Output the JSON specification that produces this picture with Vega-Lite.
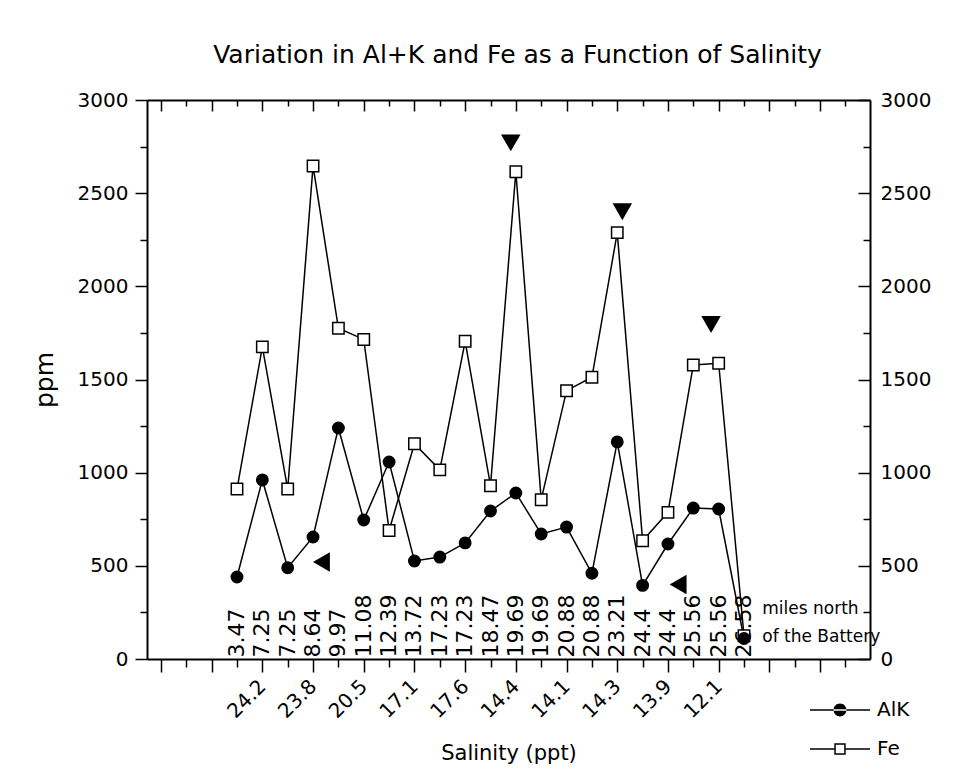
{
  "$schema": "https://vega.github.io/schema/vega-lite/v6.json",
  "width": 723,
  "height": 559,
  "autosize": {"type": "none"},
  "padding": {"left": 147, "top": 100, "right": 93, "bottom": 116},
  "background": "white",
  "title": {"text": "Variation in Al+K and Fe as a Function of Salinity", "font": "DejaVu Sans", "fontSize": 25, "fontWeight": "normal", "color": "black", "anchor": "middle", "baseline": "alphabetic", "offset": 2, "dx": 9},
  "config": {
    "view": {"stroke": null},
    "font": "DejaVu Sans",
    "axis": {"grid": false, "domainColor": "black", "domainWidth": 2, "tickColor": "black", "tickWidth": 1.5, "labelColor": "black", "titleColor": "black", "labelFont": "DejaVu Sans", "titleFont": "DejaVu Sans", "labelFontSize": 20, "titleFontWeight": "normal", "labelFlush": false, "labelOverlap": false}
  },
  "datasets": {
    "samples": [
      {"idx": 0, "distance": "3.47", "series": "Fe", "ppm": 912},
      {"idx": 1, "distance": "7.25", "series": "Fe", "ppm": 1675},
      {"idx": 2, "distance": "7.25", "series": "Fe", "ppm": 912},
      {"idx": 3, "distance": "8.64", "series": "Fe", "ppm": 2646},
      {"idx": 4, "distance": "9.97", "series": "Fe", "ppm": 1775},
      {"idx": 5, "distance": "11.08", "series": "Fe", "ppm": 1715},
      {"idx": 6, "distance": "12.39", "series": "Fe", "ppm": 690},
      {"idx": 7, "distance": "13.72", "series": "Fe", "ppm": 1155},
      {"idx": 8, "distance": "17.23", "series": "Fe", "ppm": 1015},
      {"idx": 9, "distance": "17.23", "series": "Fe", "ppm": 1705},
      {"idx": 10, "distance": "18.47", "series": "Fe", "ppm": 930},
      {"idx": 11, "distance": "19.69", "series": "Fe", "ppm": 2615},
      {"idx": 12, "distance": "19.69", "series": "Fe", "ppm": 855},
      {"idx": 13, "distance": "20.88", "series": "Fe", "ppm": 1440},
      {"idx": 14, "distance": "20.88", "series": "Fe", "ppm": 1512},
      {"idx": 15, "distance": "23.21", "series": "Fe", "ppm": 2288},
      {"idx": 16, "distance": "24.4", "series": "Fe", "ppm": 635},
      {"idx": 17, "distance": "24.4", "series": "Fe", "ppm": 787},
      {"idx": 18, "distance": "25.56", "series": "Fe", "ppm": 1578},
      {"idx": 19, "distance": "25.56", "series": "Fe", "ppm": 1587},
      {"idx": 20, "distance": "26.58", "series": "Fe", "ppm": 125},
      {"idx": 0, "distance": "3.47", "series": "AlK", "ppm": 440},
      {"idx": 1, "distance": "7.25", "series": "AlK", "ppm": 961},
      {"idx": 2, "distance": "7.25", "series": "AlK", "ppm": 490},
      {"idx": 3, "distance": "8.64", "series": "AlK", "ppm": 655},
      {"idx": 4, "distance": "9.97", "series": "AlK", "ppm": 1240},
      {"idx": 5, "distance": "11.08", "series": "AlK", "ppm": 746},
      {"idx": 6, "distance": "12.39", "series": "AlK", "ppm": 1057},
      {"idx": 7, "distance": "13.72", "series": "AlK", "ppm": 526},
      {"idx": 8, "distance": "17.23", "series": "AlK", "ppm": 547},
      {"idx": 9, "distance": "17.23", "series": "AlK", "ppm": 623},
      {"idx": 10, "distance": "18.47", "series": "AlK", "ppm": 794},
      {"idx": 11, "distance": "19.69", "series": "AlK", "ppm": 891},
      {"idx": 12, "distance": "19.69", "series": "AlK", "ppm": 671},
      {"idx": 13, "distance": "20.88", "series": "AlK", "ppm": 708},
      {"idx": 14, "distance": "20.88", "series": "AlK", "ppm": 460},
      {"idx": 15, "distance": "23.21", "series": "AlK", "ppm": 1165},
      {"idx": 16, "distance": "24.4", "series": "AlK", "ppm": 395},
      {"idx": 17, "distance": "24.4", "series": "AlK", "ppm": 617},
      {"idx": 18, "distance": "25.56", "series": "AlK", "ppm": 810},
      {"idx": 19, "distance": "25.56", "series": "AlK", "ppm": 805},
      {"idx": 20, "distance": "26.58", "series": "AlK", "ppm": 110}
    ],
    "arrows": [
      {"idx": 10.8, "ppm": 2770, "dir": "down"},
      {"idx": 15.2, "ppm": 2400, "dir": "down"},
      {"idx": 18.7, "ppm": 1795, "dir": "down"},
      {"idx": 3.33, "ppm": 520, "dir": "left"},
      {"idx": 17.4, "ppm": 400, "dir": "left"}
    ],
    "notes": [
      {"idx": 20.72, "ppm": 268, "note": "miles north"},
      {"idx": 20.72, "ppm": 118, "note": "of the Battery"}
    ]
  },
  "resolve": {"axis": {"x": "independent", "y": "independent"}, "scale": {"shape": "independent"}},
  "layer": [
    {
      "data": {"name": "samples"},
      "transform": [{"filter": "datum.series === 'AlK'"}],
      "mark": {"type": "text", "angle": 270, "align": "left", "baseline": "middle", "fontSize": 22, "font": "DejaVu Sans", "color": "black"},
      "encoding": {
        "x": {"field": "idx", "type": "quantitative", "scale": {"domain": [-3.55, 24.97], "nice": false, "zero": false}, "axis": null},
        "y": {"datum": 8, "type": "quantitative", "scale": {"domain": [0, 3000], "nice": false, "zero": false}, "axis": null},
        "text": {"field": "distance"}
      }
    },
    {
      "data": {"name": "samples"},
      "mark": {"type": "line", "color": "black", "strokeWidth": 1.5},
      "encoding": {
        "x": {"field": "idx", "type": "quantitative", "scale": {"domain": [-3.55, 24.97], "nice": false, "zero": false},
          "axis": {"orient": "bottom", "values": [-3, -1, 1, 3, 5, 7, 9, 11, 13, 15, 17, 19, 21, 23], "tickSize": 13, "labelAngle": -45, "labelAlign": "right", "labelBaseline": "middle", "labelPadding": 11, "labelFontSize": 20,
            "labelExpr": "datum.value >= 1 && datum.value <= 19 ? ['24.2','23.8','20.5','17.1','17.6','14.4','14.1','14.3','13.9','12.1'][(datum.value - 1) / 2] : ''",
            "title": "Salinity (ppt)", "titleFontSize": 21, "titlePadding": 21}},
        "y": {"field": "ppm", "type": "quantitative", "scale": {"domain": [0, 3000], "nice": false, "zero": false},
          "axis": {"orient": "left", "values": [0, 500, 1000, 1500, 2000, 2500, 3000], "format": "d", "tickSize": 12, "labelPadding": 7, "title": "ppm", "titleFontSize": 25, "titlePadding": 20}},
        "detail": {"field": "series"}
      }
    },
    {
      "data": {"name": "samples"},
      "mark": {"type": "point", "filled": true, "stroke": "black", "strokeWidth": 1.5, "size": 130, "opacity": 1},
      "encoding": {
        "x": {"field": "idx", "type": "quantitative", "scale": {"domain": [-3.55, 24.97], "nice": false, "zero": false},
          "axis": {"orient": "top", "values": [-3, -1, 1, 3, 5, 7, 9, 11, 13, 15, 17, 19, 21, 23], "tickSize": -11, "labels": false, "title": null}},
        "y": {"field": "ppm", "type": "quantitative", "scale": {"domain": [0, 3000], "nice": false, "zero": false},
          "axis": {"orient": "right", "values": [0, 500, 1000, 1500, 2000, 2500, 3000], "format": "d", "tickSize": -12, "labelPadding": 22, "title": null}},
        "shape": {"field": "series", "type": "nominal", "scale": {"domain": ["AlK", "Fe"], "range": ["circle", "square"]}, "legend": null},
        "fill": {"field": "series", "type": "nominal", "scale": {"domain": ["AlK", "Fe"], "range": ["black", "white"]}, "legend": null}
      }
    },
    {
      "data": {"name": "samples"},
      "mark": {"type": "point", "filled": true, "color": "black", "strokeWidth": 0, "opacity": 0},
      "encoding": {
        "x": {"field": "idx", "type": "quantitative", "scale": {"domain": [-3.55, 24.97], "nice": false, "zero": false}, "axis": null},
        "y": {"field": "ppm", "type": "quantitative", "scale": {"domain": [0, 3000], "nice": false, "zero": false}, "axis": null},
        "shape": {"field": "series", "type": "nominal",
          "scale": {"domain": ["AlK", "Fe"], "range": ["M-2,-0.055H2V0.055H-2Z M-0.43,0A0.43,0.43,0,1,0,0.43,0A0.43,0.43,0,1,0,-0.43,0Z", "M-2,-0.055H-0.33V0.055H-2Z M0.33,-0.055H2V0.055H0.33Z M-0.38,-0.38H0.38V0.38H-0.38Z M-0.28,-0.28V0.28H0.28V-0.28Z"]},
          "legend": {"orient": "none", "legendX": 678, "legendY": 595, "title": null, "symbolSize": 900, "symbolOpacity": 1, "symbolFillColor": "black", "symbolStrokeColor": "transparent", "symbolStrokeWidth": 0, "labelFontSize": 20, "labelFont": "DejaVu Sans", "labelColor": "black", "labelOffset": 22, "rowPadding": 14, "padding": 0}}
      }
    },
    {
      "data": {"name": "arrows"},
      "transform": [{"filter": "datum.dir === 'down'"}],
      "mark": {"type": "point", "shape": "triangle-down", "filled": true, "color": "black", "opacity": 1, "size": 380},
      "encoding": {
        "x": {"field": "idx", "type": "quantitative", "scale": {"domain": [-3.55, 24.97], "nice": false, "zero": false},
          "axis": {"orient": "bottom", "values": [-2, 0, 2, 4, 6, 8, 10, 12, 14, 16, 18, 20, 22, 24], "tickSize": 8, "labels": false, "domain": false, "title": null}},
        "y": {"field": "ppm", "type": "quantitative", "scale": {"domain": [0, 3000], "nice": false, "zero": false},
          "axis": {"orient": "left", "values": [250, 750, 1250, 1750, 2250, 2750], "tickSize": 7, "labels": false, "domain": false, "title": null}}
      }
    },
    {
      "data": {"name": "arrows"},
      "transform": [{"filter": "datum.dir === 'left'"}],
      "mark": {"type": "point", "shape": "triangle-left", "filled": true, "color": "black", "opacity": 1, "size": 380},
      "encoding": {
        "x": {"field": "idx", "type": "quantitative", "scale": {"domain": [-3.55, 24.97], "nice": false, "zero": false},
          "axis": {"orient": "top", "values": [-2, 0, 2, 4, 6, 8, 10, 12, 14, 16, 18, 20, 22, 24], "tickSize": -6, "labels": false, "domain": false, "title": null}},
        "y": {"field": "ppm", "type": "quantitative", "scale": {"domain": [0, 3000], "nice": false, "zero": false},
          "axis": {"orient": "right", "values": [250, 750, 1250, 1750, 2250, 2750], "tickSize": -7, "labels": false, "domain": false, "title": null}}
      }
    },
    {
      "data": {"name": "notes"},
      "mark": {"type": "text", "align": "left", "baseline": "middle", "fontSize": 17, "font": "DejaVu Sans", "color": "black"},
      "encoding": {
        "x": {"field": "idx", "type": "quantitative", "scale": {"domain": [-3.55, 24.97], "nice": false, "zero": false}, "axis": null},
        "y": {"field": "ppm", "type": "quantitative", "scale": {"domain": [0, 3000], "nice": false, "zero": false}, "axis": null},
        "text": {"field": "note"}
      }
    }
  ]
}
